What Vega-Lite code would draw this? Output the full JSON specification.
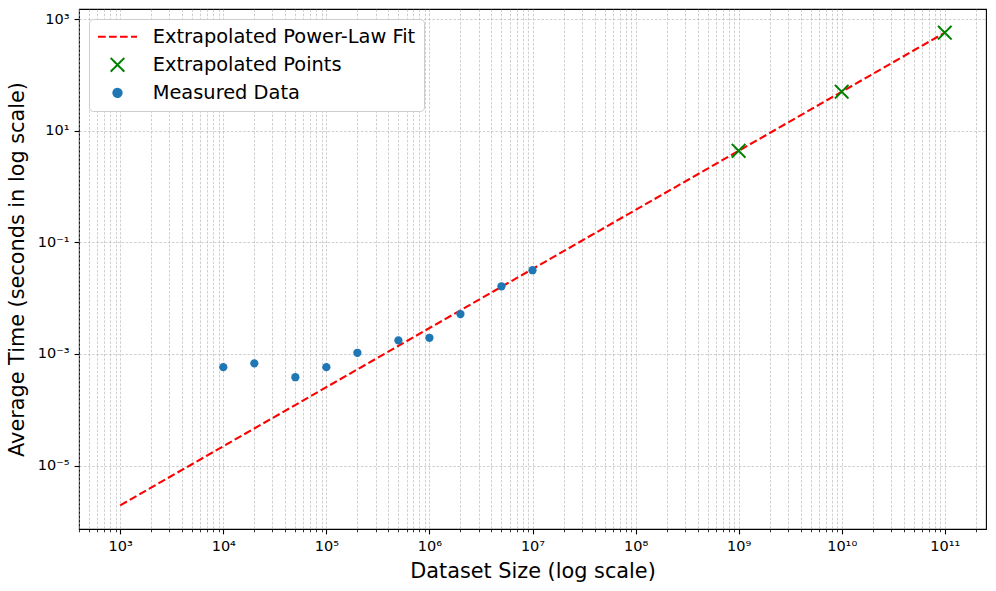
{
  "$schema": "https://vega.github.io/schema/vega-lite/v6.json",
  "width": 907,
  "height": 520,
  "autosize": "none",
  "padding": {"left": 79, "top": 9, "right": 10, "bottom": 62},
  "background": "white",
  "config": {
    "view": {"stroke": "black", "strokeWidth": 1.1},
    "font": "DejaVu Sans",
    "legend": {
      "orient": "top-left",
      "offset": 9.5,
      "padding": 8,
      "rowPadding": 6.1,
      "symbolOffset": 10.8,
      "labelOffset": 25.5,
      "labelFont": "DejaVu Sans",
      "labelFontSize": 19.4,
      "labelColor": "black",
      "labelLimit": 500,
      "fillColor": "white",
      "strokeColor": "#cccccc",
      "cornerRadius": 4,
      "symbolStrokeWidth": 2,
      "symbolOpacity": 1
    }
  },
  "data": {
    "values": [
      {"size": 1000, "time": 0.00000194, "series": "Extrapolated Power-Law Fit"},
      {"size": 100000000000, "time": 570, "series": "Extrapolated Power-Law Fit"},
      {"size": 1000000000, "time": 4.36, "series": "Extrapolated Points"},
      {"size": 10000000000, "time": 49.9, "series": "Extrapolated Points"},
      {"size": 100000000000, "time": 570, "series": "Extrapolated Points"},
      {"size": 10000, "time": 0.00058, "series": "Measured Data"},
      {"size": 20000, "time": 0.00068, "series": "Measured Data"},
      {"size": 50000, "time": 0.000383, "series": "Measured Data"},
      {"size": 100000, "time": 0.00058, "series": "Measured Data"},
      {"size": 200000, "time": 0.00105, "series": "Measured Data"},
      {"size": 500000, "time": 0.00175, "series": "Measured Data"},
      {"size": 1000000, "time": 0.00195, "series": "Measured Data"},
      {"size": 2000000, "time": 0.00519, "series": "Measured Data"},
      {"size": 5000000, "time": 0.0163, "series": "Measured Data"},
      {"size": 10000000, "time": 0.0316, "series": "Measured Data"}
    ]
  },
  "encoding": {
    "x": {
      "field": "size",
      "type": "quantitative",
      "scale": {"type": "log", "domain": [398.107, 251188643150], "nice": false, "zero": false},
      "axis": {
        "title": "Dataset Size (log scale)",
        "titleFont": "DejaVu Sans",
        "titleFontSize": 20.8,
        "titleFontWeight": "normal",
        "titleColor": "black",
        "titlePadding": 8,
        "values": [400, 500, 600, 700, 800, 900,
          1000, 2000, 3000, 4000, 5000, 6000, 7000, 8000, 9000,
          10000, 20000, 30000, 40000, 50000, 60000, 70000, 80000, 90000,
          100000, 200000, 300000, 400000, 500000, 600000, 700000, 800000, 900000,
          1000000, 2000000, 3000000, 4000000, 5000000, 6000000, 7000000, 8000000, 9000000,
          10000000, 20000000, 30000000, 40000000, 50000000, 60000000, 70000000, 80000000, 90000000,
          100000000, 200000000, 300000000, 400000000, 500000000, 600000000, 700000000, 800000000, 900000000,
          1000000000, 2000000000, 3000000000, 4000000000, 5000000000, 6000000000, 7000000000, 8000000000, 9000000000,
          10000000000, 20000000000, 30000000000, 40000000000, 50000000000, 60000000000, 70000000000, 80000000000, 90000000000,
          100000000000, 200000000000],
        "labelExpr": "abs(log(datum.value)/LN10 - round(log(datum.value)/LN10)) > 0.001 ? '' : ['10⁰','10¹','10²','10³','10⁴','10⁵','10⁶','10⁷','10⁸','10⁹','10¹⁰','10¹¹'][round(log(datum.value)/LN10)]",
        "labelOverlap": false,
        "labelFlush": false,
        "labelFont": "DejaVu Sans",
        "labelFontSize": 14.5,
        "labelColor": "black",
        "labelPadding": 6,
        "tickColor": "black",
        "tickSize": {"condition": {"test": "abs(log(datum.value)/LN10 - round(log(datum.value)/LN10)) < 0.001", "value": 4.9}, "value": 2.8},
        "tickWidth": {"condition": {"test": "abs(log(datum.value)/LN10 - round(log(datum.value)/LN10)) < 0.001", "value": 1.1}, "value": 0.8},
        "domain": false,
        "grid": true,
        "gridColor": "#b0b0b0",
        "gridDash": [2.6, 1.6],
        "gridWidth": 0.6
      }
    },
    "y": {
      "field": "time",
      "type": "quantitative",
      "scale": {"type": "log", "domain": [0.000000731, 1513], "nice": false, "zero": false},
      "axis": {
        "title": "Average Time (seconds in log scale)",
        "titleFont": "DejaVu Sans",
        "titleFontSize": 20.8,
        "titleFontWeight": "normal",
        "titleColor": "black",
        "titlePadding": 10,
        "values": [0.00001, 0.001, 0.1, 10, 1000],
        "labelExpr": "datum.value < 0.0001 ? '10⁻⁵' : datum.value < 0.01 ? '10⁻³' : datum.value < 1 ? '10⁻¹' : datum.value < 100 ? '10¹' : '10³'",
        "labelOverlap": false,
        "labelFlush": false,
        "labelFont": "DejaVu Sans",
        "labelFontSize": 14.5,
        "labelColor": "black",
        "labelPadding": 5,
        "tickColor": "black",
        "tickSize": 4.9,
        "tickWidth": 1.1,
        "domain": false,
        "grid": true,
        "gridColor": "#b0b0b0",
        "gridDash": [2.6, 1.6],
        "gridWidth": 0.6
      }
    },
    "color": {
      "field": "series",
      "type": "nominal",
      "scale": {"domain": ["Extrapolated Power-Law Fit", "Extrapolated Points", "Measured Data"], "range": ["#ff0000", "#008000", "#1f77b4"]},
      "legend": {"title": null}
    },
    "strokeDash": {
      "field": "series",
      "type": "nominal",
      "scale": {"domain": ["Extrapolated Power-Law Fit", "Extrapolated Points", "Measured Data"], "range": [[7.7, 3.3], [1, 0], [1, 0]]},
      "legend": {"title": null}
    }
  },
  "layer": [
    {
      "transform": [{"filter": "datum.series === 'Extrapolated Power-Law Fit'"}],
      "mark": {"type": "line", "strokeWidth": 2.1}
    },
    {
      "transform": [{"filter": "datum.series === 'Extrapolated Points'"}],
      "mark": {"type": "point", "filled": false, "strokeWidth": 2, "opacity": 1},
      "encoding": {
        "shape": {
          "field": "series",
          "type": "nominal",
          "scale": {"domain": ["Extrapolated Power-Law Fit", "Extrapolated Points", "Measured Data"], "range": ["M-2.6,0L2.6,0", "M-1,-1L1,1M1,-1L-1,1", "circle"]},
          "legend": {"title": null}
        },
        "size": {
          "field": "series",
          "type": "nominal",
          "scale": {"type": "ordinal", "domain": ["Extrapolated Power-Law Fit", "Extrapolated Points", "Measured Data"], "range": [225, 185, 68]},
          "legend": {"title": null}
        }
      }
    },
    {
      "transform": [{"filter": "datum.series === 'Measured Data'"}],
      "mark": {"type": "point", "filled": true, "opacity": 1},
      "encoding": {
        "shape": {
          "field": "series",
          "type": "nominal",
          "scale": {"domain": ["Extrapolated Power-Law Fit", "Extrapolated Points", "Measured Data"], "range": ["M-2.6,0L2.6,0", "M-1,-1L1,1M1,-1L-1,1", "circle"]},
          "legend": {"title": null}
        },
        "size": {
          "field": "series",
          "type": "nominal",
          "scale": {"type": "ordinal", "domain": ["Extrapolated Power-Law Fit", "Extrapolated Points", "Measured Data"], "range": [225, 185, 68]},
          "legend": {"title": null}
        }
      }
    }
  ]
}
